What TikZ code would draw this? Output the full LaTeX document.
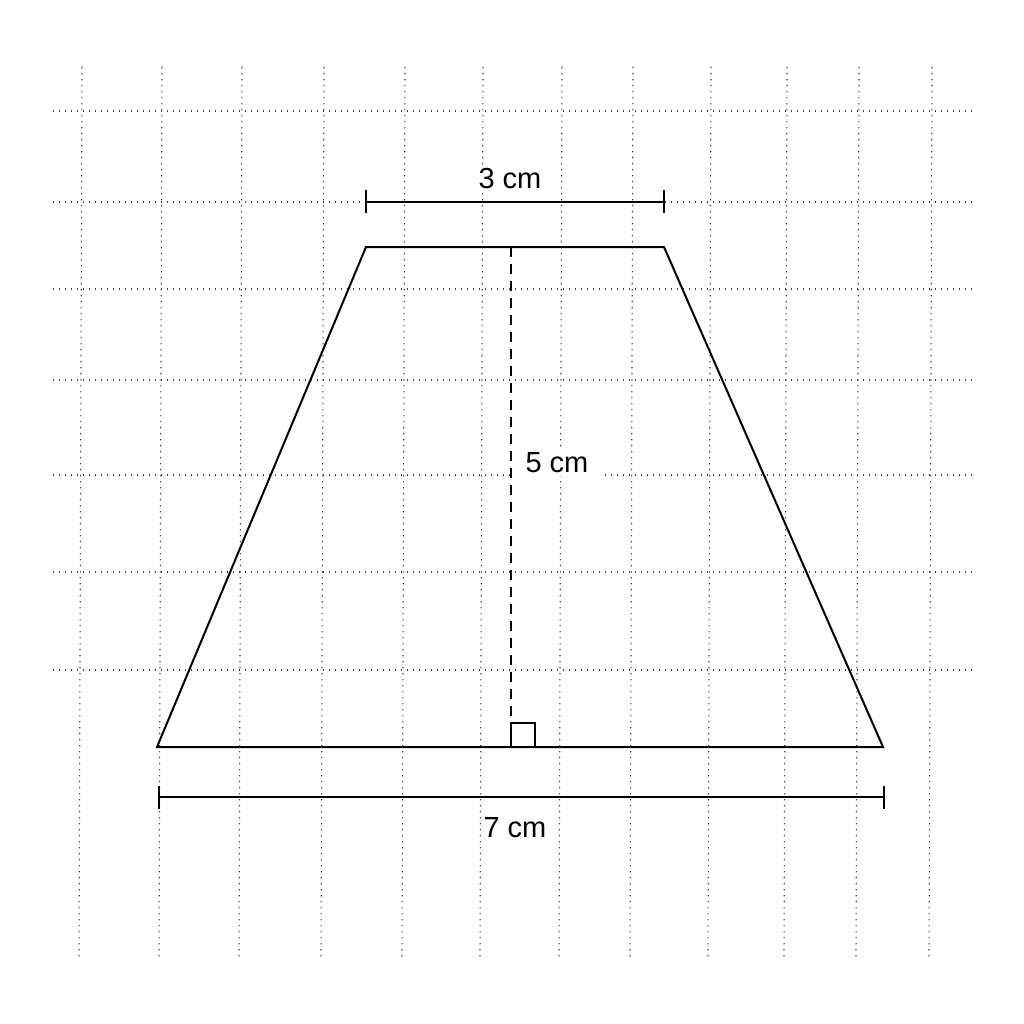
\documentclass[tikz,border=0pt]{standalone}
\usepackage{fontspec}
\setmainfont{Liberation Sans}
\begin{document}
\begin{tikzpicture}[x=1pt,y=-1pt,
  gridline/.style={draw=black!75,line width=1.1pt,dash pattern=on 1.4pt off 4.6pt},
  trapstyle/.style={draw=black,line width=2pt,line join=miter},
  dimline/.style={draw=black,line width=2pt},
  heightline/.style={draw=black,line width=2pt,dash pattern=on 10pt off 7pt},
  lbl/.style={font=\fontsize{29}{34}\selectfont,fill=white,inner xsep=12pt,inner ysep=4pt,anchor=base}]
\useasboundingbox (0,0) rectangle (1024,1024);
\fill[white] (0,0) rectangle (1024,1024);
% grid
\foreach \gx in {82,162,242,324,405,483,562,633,711,787,859,932}
  \draw[gridline] (\gx,67) -- (\gx-3,958);
\foreach \gy in {111,202,289,380,475,572,670}
  \draw[gridline] (53,\gy) -- (972,\gy);
% trapezoid
\coordinate (BL) at (157,747);
\coordinate (BR) at (883,747);
\coordinate (TR) at (664,247);
\coordinate (TL) at (366,247);
\coordinate (HT) at (511,247);
\coordinate (HB) at (511,747);
\draw[trapstyle] (BL) -- (BR) -- (TR) -- (TL) -- cycle;
\draw[heightline] (HT) -- (HB);
\draw[line width=1.6pt] (511,747) -- (511,723) -- (535,723) -- (535,747);
% top dimension
\coordinate (D1a) at (366,202);
\coordinate (D1b) at (664,202);
\node[lbl] (l3) at (510,189) {3 cm};
\draw[dimline] (D1a) -- (D1b);
\draw[dimline] (366,190) -- (366,213);
\draw[dimline] (664,190) -- (664,213);
% bottom dimension
\coordinate (D2a) at (159,797);
\coordinate (D2b) at (884,797);
\draw[dimline] (D2a) -- (D2b);
\draw[dimline] (159,786) -- (159,809);
\draw[dimline] (884,786) -- (884,809);
\node[lbl,fill=none] (l7) at (515,837) {7 cm};
% height label
\node[lbl] (l5) at (557,472) {5 cm};
\end{tikzpicture}
\end{document}
